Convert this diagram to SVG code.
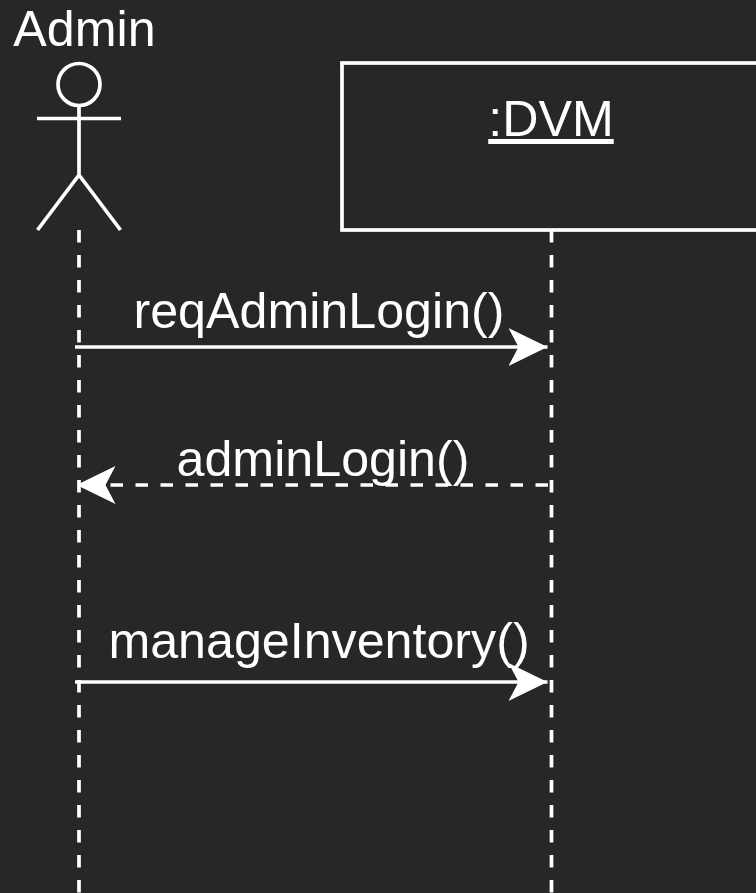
<svg xmlns="http://www.w3.org/2000/svg" width="756" height="893" viewBox="0 0 756 893">
<style>
.l{fill:none;stroke:#fff;stroke-width:3.7}
.d{stroke-dasharray:12.5 12.5}
.t{font-family:"Liberation Sans",Arial,sans-serif;font-size:50.2px;fill:#fff;text-anchor:middle}
</style>
<defs><marker id="a" markerUnits="userSpaceOnUse" markerWidth="42" markerHeight="42" refX="39" refY="21" orient="auto-start-reverse"><path d="M0 2L39 21L0 40L10 21Z" fill="#fff"/></marker></defs>
<rect width="756" height="893" fill="#272727"/>
<g id="admin"><circle class="l" cx="79" cy="84.500" r="21"/><path class="l" d="M79 105.500V175M37 118.500H121M37.500 230L79 175L120.500 230"/><text class="t" x="84.500" y="46">Admin</text></g>
<g id="dvm"><rect class="l" x="342" y="63" width="430" height="167"/><text class="t" x="551" y="136" text-decoration="underline">:DVM</text></g>
<g id="connectors">
<path class="l d" d="M79 230V893"/><path class="l d" d="M551.500 230V893"/>
<path class="l" d="M75 347H547.500" marker-end="url(#a)"/>
<path class="l d" d="M548 485H76.500" marker-end="url(#a)"/>
<path class="l" d="M75 682H547.500" marker-end="url(#a)"/>
</g>
<g id="labels"><text class="t" x="319" y="328">reqAdminLogin()</text><text class="t" x="323" y="476">adminLogin()</text><text class="t" x="319" y="658">manageInventory()</text></g>
</svg>
